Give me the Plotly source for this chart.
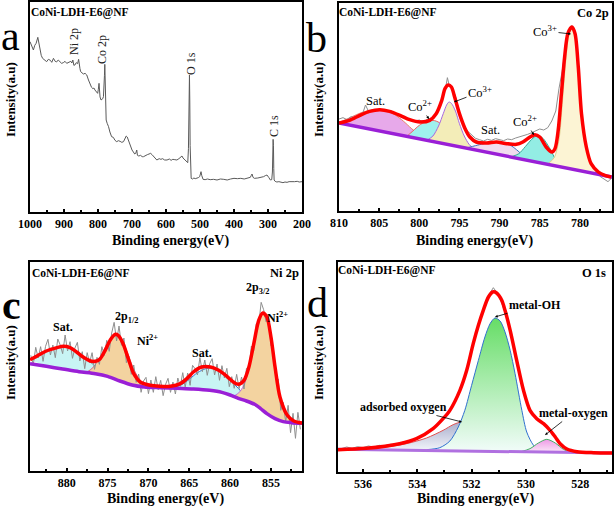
import plotly.graph_objects as go

W, H = 614, 511
SERIF = "Liberation Serif"

# ---------------- Panel a: survey spectrum ----------------
A_E = [1000, 995, 990, 986, 982, 977, 974, 971, 967, 963, 957, 951, 946, 940, 936, 931, 926, 922, 917, 912,
       907, 902, 897, 892, 886, 880, 877, 874, 871, 868, 864, 860, 857, 855, 853, 851, 847, 843, 838, 833,
       828, 823, 819, 815, 812, 809, 805, 801, 799, 797, 796, 794, 791, 788, 786, 784, 782, 781, 780, 779,
       778, 777, 776, 773, 769, 765, 760, 755, 750, 745, 740, 735, 730, 725, 721, 717, 714, 711, 707, 703,
       700, 696, 692, 689, 686, 684, 680, 675, 670, 666, 660, 655, 650, 645, 641, 636, 632, 627, 620, 615,
       610, 604, 597, 590, 585, 580, 574, 568, 562, 557, 553, 550, 546, 542, 539, 536, 534, 532, 531, 530,
       529, 527, 526, 522, 518, 514, 509, 505, 501, 499, 497, 495, 493, 491, 485, 478, 470, 460, 450, 440,
       430, 420, 410, 400, 390, 380, 370, 360, 352, 349, 347, 344, 340, 330, 320, 313, 308, 303, 298, 293,
       289, 287, 285, 284, 283, 282, 279, 274, 268, 262, 256, 250, 244, 238, 230, 222, 214, 208, 200]
A_I = [511, 495, 486, 500, 506, 524, 505, 496, 470, 461, 455, 451, 458, 455, 449, 461, 452, 450, 456, 451,
       446, 448, 452, 446, 449, 452, 447, 456, 440, 441, 448, 445, 458, 437, 430, 421, 418, 414, 416, 411,
       396, 381, 374, 370, 372, 366, 361, 356, 368, 386, 372, 345, 336, 338, 340, 346, 372, 410, 443, 400,
       330, 290, 276, 266, 256, 240, 226, 224, 215, 211, 214, 212, 209, 211, 218, 228, 225, 216, 206, 196,
       186, 180, 174, 176, 186, 170, 168, 170, 166, 166, 168, 172, 174, 176, 172, 166, 162, 156, 160, 158,
       160, 156, 156, 159, 155, 158, 157, 156, 160, 164, 168, 162, 158, 155, 150, 148, 190, 330, 411, 330,
       200, 120, 101, 99, 102, 100, 101, 103, 106, 112, 121, 110, 100, 98, 97, 99, 97, 98, 96, 99,
       98, 96, 99, 101, 100, 101, 99, 102, 104, 110, 114, 104, 101, 102, 104, 106, 109, 111, 104, 96,
       97, 120, 218, 200, 130, 96, 92, 90, 91, 89, 88, 90, 89, 91, 90, 91, 92, 90, 91]

# ---------------- Panel b: Co 2p ----------------
B_RAW_E = [810.0, 809.5, 809.0, 808.5, 808.0, 807.5, 807.0, 806.7, 806.3, 806.0, 805.5, 805.0, 804.5, 804.0,
           803.5, 803.0, 802.5, 802.0, 801.5, 801.0, 800.5, 800.0, 799.5, 799.0, 798.5, 798.0, 797.5, 797.0,
           796.7, 796.5, 796.3, 796.0, 795.5, 795.0, 794.5, 794.0, 793.5, 793.0, 792.5, 792.0, 791.5, 791.0,
           790.5, 790.0, 789.5, 789.0, 788.5, 788.0, 787.5, 787.0, 786.5, 786.0, 785.5, 785.0, 784.5, 784.0,
           783.5, 783.0, 782.6, 782.2, 781.8, 781.4, 781.0, 780.6, 780.2, 779.8, 779.4, 779.0, 778.5, 778.0,
           777.5, 777.0, 776.5, 776.0]
B_RAW_I = [276, 280, 274, 283, 279, 288, 296, 318, 298, 303, 300, 307, 302, 298,
           301, 292, 289, 283, 279, 274, 270, 273, 268, 275, 279, 290, 310, 350,
           372, 400, 380, 375, 345, 295, 262, 240, 228, 218, 214, 210, 215, 212,
           217, 214, 211, 216, 214, 219, 222, 226, 230, 235, 240, 246, 243, 250,
           270, 300, 368, 420, 490, 540, 556, 530, 440, 300, 215, 170, 140, 118,
           104, 96, 88, 100]
B_ENV_E = [810.0, 808.7, 807.4, 806.2, 804.9, 803.7, 802.4, 801.2, 799.9, 798.7, 797.9, 797.2, 796.8, 796.4,
           796.0, 795.6, 795.0, 794.3, 793.7, 792.9, 791.6, 790.4, 789.1, 787.9, 787.1, 786.2, 785.6, 785.0,
           784.2, 783.5, 783.1, 782.7, 782.3, 781.9, 781.5, 781.0, 780.6, 780.2, 779.8, 779.2, 778.6, 777.7,
           776.9, 776.1]
B_ENV_I = [264, 272, 287, 299, 304, 299, 287, 274, 267, 272, 292, 332, 367, 378,
           372, 342, 292, 247, 222, 207, 204, 207, 202, 200, 207, 222, 229, 222,
           192, 177, 187, 242, 352, 462, 532, 552, 532, 432, 292, 192, 142, 117,
           107, 102]
B_BG_E = [810, 776]
B_BG_I = [264, 102]
B_SAT1_E = [810, 809, 808, 807, 806, 805, 804, 803, 802, 801, 800, 799.5, 799]
B_SAT1_I = [266, 276, 287, 297, 302, 304, 300, 288, 270, 248, 228, 218, 212]
B_CO2A_E = [801.5, 800.8, 800, 799.2, 798.3, 797.5, 796.8, 796.2, 795.5]
B_CO2A_I = [225, 240, 257, 268, 272, 265, 245, 222, 200]
B_CO3A_E = [799, 798.3, 797.6, 797, 796.6, 796.3, 796, 795.5, 795, 794.4, 793.8, 793.2]
B_CO3A_I = [213, 225, 255, 293, 318, 327, 323, 300, 262, 225, 200, 187]
B_SAT2_E = [794, 793, 792, 791, 790.2, 789.3, 788.5, 787.7, 787, 786.3]
B_SAT2_I = [190, 196, 202, 206, 207, 204, 195, 180, 165, 153]
B_CO2B_E = [788.5, 787.6, 786.8, 786, 785.3, 784.6, 783.8, 783.1, 782.5, 782]
B_CO2B_I = [163, 172, 193, 215, 227, 218, 190, 158, 138, 131]
B_CO3B_E = [784, 783.2, 782.6, 782.2, 781.8, 781.4, 781, 780.6, 780.2, 779.8, 779.3, 778.7, 778, 777.2]
B_CO3B_I = [141, 160, 215, 320, 440, 525, 552, 528, 430, 295, 195, 143, 120, 108]

# ---------------- Panel c: Ni 2p ----------------
C_RAW_E = [884.4, 884.1, 883.8, 883.5, 883.2, 882.9, 882.6, 882.3, 882.0, 881.7, 881.4, 881.1, 880.8, 880.5,
           880.2, 879.9, 879.6, 879.3, 879.0, 878.7, 878.4, 878.1, 877.8, 877.5, 877.2, 876.9, 876.6, 876.3,
           876.0, 875.7, 875.4, 875.1, 874.8, 874.5, 874.2, 873.9, 873.6, 873.3, 873.0, 872.7, 872.4, 872.1,
           871.8, 871.5, 871.2, 870.9, 870.6, 870.3, 870.0, 869.7, 869.4, 869.1, 868.8, 868.5, 868.2, 867.9,
           867.6, 867.3, 867.0, 866.7, 866.4, 866.1, 865.8, 865.5, 865.2, 864.9, 864.6, 864.3, 864.0, 863.7,
           863.4, 863.1, 862.8, 862.5, 862.2, 861.9, 861.6, 861.3, 861.0, 860.7, 860.4, 860.1, 859.8, 859.5,
           859.2, 858.9, 858.6, 858.3, 858.0, 857.7, 857.4, 857.1, 856.8, 856.5, 856.2, 855.9, 855.6, 855.3,
           855.0, 854.7, 854.4, 854.1, 853.8, 853.5, 853.2, 852.9, 852.6, 852.3, 852.0, 851.7, 851.4]
C_RAW_I = [347, 319, 371, 339, 373, 329, 374, 395, 348, 378, 340, 396, 378, 352,
           408, 360, 388, 338, 369, 386, 330, 358, 307, 355, 325, 355, 305, 341,
           320, 373, 347, 392, 359, 414, 446, 390, 435, 377, 399, 325, 344, 290,
           318, 266, 291, 236, 270, 281, 232, 273, 236, 283, 244, 272, 226, 260,
           278, 236, 267, 231, 279, 254, 295, 251, 294, 257, 317, 307, 288, 340,
           298, 333, 287, 322, 337, 288, 321, 272, 316, 279, 308, 253, 283, 248,
           290, 247, 282, 246, 308, 304, 375, 362, 442, 440, 506, 484, 448, 462,
           376, 366, 276, 276, 182, 206, 147, 197, 115, 173, 98, 176, 125]
C_ENV_E = [884.5, 883.7, 882.5, 881.2, 880.4, 879.6, 878.8, 878.0, 877.1, 876.5, 875.9, 875.3, 874.7, 874.1,
           873.7, 873.1, 872.4, 871.8, 871.0, 869.8, 868.6, 867.3, 866.1, 865.3, 864.5, 863.5, 862.4, 861.4,
           860.4, 859.6, 859.0, 858.3, 857.7, 857.1, 856.5, 856.0, 855.5, 855.0, 854.5, 853.9, 853.0, 852.2,
           851.2]
C_ENV_I = [334, 344, 360, 370, 374, 370, 357, 342, 330, 329, 337, 362, 392, 410,
           407, 382, 332, 292, 267, 257, 254, 254, 262, 277, 297, 312, 312, 302,
           284, 267, 260, 272, 312, 382, 452, 474, 462, 402, 312, 222, 167, 150,
           144]
C_BG_E = [884.5, 882.5, 880.5, 878.5, 876.5, 875.0, 873.5, 872.0, 870.5, 868.5, 866.5, 864.5, 862.5, 861.0,
          860.0, 859.0, 858.0, 857.0, 856.3, 855.5, 854.5, 853.5, 852.5, 851.2]
C_BG_I = [322, 314, 306, 298, 292, 284, 270, 258, 252, 250, 248, 246, 242, 236,
          228, 218, 210, 200, 188, 172, 157, 148, 145, 143]
C_SAT1_E = [884.5, 883.5, 882.5, 881.5, 880.4, 879.4, 878.4, 877.4, 876.5, 875.5, 874.5]
C_SAT1_I = [334, 347, 360, 369, 372, 367, 352, 333, 314, 297, 282]
C_P12_E = [877.5, 876.8, 876.0, 875.3, 874.6, 873.9, 873.2, 872.5, 871.8, 871.0, 870.2]
C_P12_I = [297, 310, 338, 370, 396, 405, 390, 350, 305, 272, 255]
C_SAT2_E = [867, 866, 865, 864, 863, 862.2, 861.4, 860.6, 859.8, 859, 858.2, 857.5]
C_SAT2_I = [250, 258, 275, 295, 307, 310, 303, 288, 268, 248, 226, 210]
C_P32_E = [859.5, 858.8, 858.2, 857.6, 857.0, 856.5, 856.0, 855.5, 855.0, 854.5, 854.0, 853.4, 852.7, 851.8]
C_P32_I = [225, 238, 265, 315, 385, 445, 472, 460, 400, 315, 235, 180, 155, 146]

# ---------------- Panel d: O 1s ----------------
D_RAW_E = [537.0, 536.8, 536.6, 536.4, 536.2, 536.0, 535.8, 535.6, 535.4, 535.2, 535.0, 534.8, 534.6, 534.4,
           534.2, 534.0, 533.8, 533.6, 533.4, 533.2, 533.0, 532.8, 532.6, 532.4, 532.2, 532.0, 531.8, 531.6,
           531.4, 531.2, 531.0, 530.8, 530.6, 530.4, 530.2, 530.0, 529.8, 529.6, 529.4, 529.2, 529.0, 528.8,
           528.6, 528.4, 528.2, 528.0, 527.8, 527.6, 527.4, 527.2, 527.0, 526.8]
D_RAW_I = [72, 70, 75, 71, 76, 73, 78, 75, 80, 79, 83, 84, 88, 91,
           96, 102, 110, 120, 131, 146, 164, 186, 214, 251, 300, 366, 426, 480,
           526, 553, 530, 486, 430, 354, 286, 220, 181, 160, 148, 131, 113, 92,
           75, 66, 62, 61, 58, 59, 57, 58, 56, 57]
D_ENV_E = [536.92, 535.88, 534.65, 534.03, 533.42, 533.05, 532.80, 532.43, 532.18, 531.94, 531.75, 531.57,
           531.38, 531.22, 531.08, 530.89, 530.77, 530.58, 530.34, 530.09, 529.85, 529.60, 529.35, 529.11,
           528.92, 528.74, 528.49, 528.12, 527.51, 526.83]
D_ENV_I = [67, 71, 85, 100, 130, 160, 185, 245, 305, 385, 440, 485,
           525, 540, 537, 515, 485, 425, 335, 245, 185, 160, 145, 125,
           105, 85, 69, 61, 58, 57]
D_BG_E = [537.0, 526.8]
D_BG_I = [68, 57]
D_ADS_E = [536.49, 535.26, 534.40, 533.66, 533.05, 532.68, 532.37, 532.06, 531.82, 531.57, 531.26, 530.95]
D_ADS_I = [68, 74, 85, 102, 125, 142, 150, 142, 120, 90, 70, 62]
D_OH_E = [533.66, 533.17, 532.80, 532.49, 532.25, 532.00, 531.75, 531.51, 531.32, 531.14, 530.95, 530.77,
          530.58, 530.40, 530.15, 529.97, 529.72, 529.48, 529.11]
D_OH_I = [67, 73, 93, 135, 185, 260, 335, 405, 445, 462, 453, 420, 365, 295, 185, 120, 80, 65, 59]
D_MO_E = [530.22, 529.85, 529.54, 529.23, 528.92, 528.62, 528.31]
D_MO_I = [60, 70, 87, 98, 87, 68, 58]

# ---------------- figure ----------------
fig = go.Figure()


def band(ex, ey, bx, by):
    lo, hi = min(ex), max(ex)
    pts = sorted([(x, y) for x, y in zip(bx, by) if lo < x < hi])
    return list(ex) + [p[0] for p in pts], list(ey) + [p[1] for p in pts]


def comp(ax, ex, ey, bx, by, fill, line, grad=None):
    px, py = band(ex, ey, bx, by)
    kw = dict(x=px, y=py, xaxis="x" + ax, yaxis="y" + ax, mode="lines", fill="toself",
              line=dict(width=0, shape="spline", smoothing=0.8), hoverinfo="skip", showlegend=False)
    if grad:
        kw["fillgradient"] = dict(type="vertical", colorscale=grad)
    else:
        kw["fillcolor"] = fill
    fig.add_trace(go.Scatter(**kw))
    fig.add_trace(go.Scatter(x=ex, y=ey, xaxis="x" + ax, yaxis="y" + ax, mode="lines",
                             line=dict(color=line, width=1, shape="spline", smoothing=0.8),
                             hoverinfo="skip", showlegend=False))


def line(ax, x, y, color, width, shape="spline"):
    fig.add_trace(go.Scatter(x=x, y=y, xaxis="x" + ax, yaxis="y" + ax, mode="lines",
                             line=dict(color=color, width=width, shape=shape, smoothing=0.8),
                             hoverinfo="skip", showlegend=False))


RED = "#ff0000"
PURPLE = "#9a1fd6"
GRAY = "#8f8f8f"

# a
line("", A_E, A_I, "#5a5a5a", 1, "linear")

# b
comp("2", B_SAT1_E, B_SAT1_I, B_BG_E, B_BG_I, "#e7a9ea", "#e8806a")
comp("2", B_CO2A_E, B_CO2A_I, B_BG_E, B_BG_I, "#9ff1ee", "#f06060")
comp("2", B_CO3A_E, B_CO3A_I, B_BG_E, B_BG_I, "#f3edb8", "#a868e0")
comp("2", B_SAT2_E, B_SAT2_I, B_BG_E, B_BG_I, "#f1dcef", "#3a6fc0")
comp("2", B_CO2B_E, B_CO2B_I, B_BG_E, B_BG_I, "#93ede4", "#36a896")
comp("2", B_CO3B_E, B_CO3B_I, B_BG_E, B_BG_I, "#fcf4d4", "#e0d090")
line("2", B_RAW_E, B_RAW_I, GRAY, 1, "linear")
line("2", B_BG_E, B_BG_I, PURPLE, 3.5, "linear")
line("2", B_ENV_E, B_ENV_I, RED, 3.5)

# c
comp("3", C_SAT1_E, C_SAT1_I, C_BG_E, C_BG_I, "#c8f4f4", "#40b4b4")
comp("3", C_P12_E, C_P12_I, C_BG_E, C_BG_I, "#f3d3a0", "#e06080")
comp("3", C_SAT2_E, C_SAT2_I, C_BG_E, C_BG_I, "#c8f4f4", "#3070d0")
comp("3", C_P32_E, C_P32_I, C_BG_E, C_BG_I, "#f3d3a0", "#c070e0")
line("3", C_RAW_E, C_RAW_I, GRAY, 1, "linear")
line("3", C_BG_E, C_BG_I, PURPLE, 3.5)
line("3", C_ENV_E, C_ENV_I, RED, 3.5)

# d
comp("4", D_ADS_E, D_ADS_I, D_BG_E, D_BG_I, None, "#e05050", [[0, "#f4f6fc"], [1, "#a9aecb"]])
comp("4", D_OH_E, D_OH_I, D_BG_E, D_BG_I, None, "#3070d0", [[0, "#f2fcfa"], [1, "#66dd66"]])
comp("4", D_MO_E, D_MO_I, D_BG_E, D_BG_I, None, "#40b060", [[0, "#fbeaf8"], [1, "#ee99e6"]])
line("4", D_RAW_E, D_RAW_I, GRAY, 1, "linear")
line("4", D_BG_E, D_BG_I, "#b070e0", 3, "linear")
line("4", D_ENV_E, D_ENV_I, RED, 3.5)


def dom_x(l, r):
    return [l / W, r / W]


def dom_y(t, b):
    return [1 - b / H, 1 - t / H]


tickfont = dict(family=SERIF, size=12, color="black", weight="bold")
xcommon = dict(showline=True, mirror=True, linecolor="black", linewidth=2, ticks="inside", ticklen=3,
               tickwidth=1.5, tickcolor="black", tickfont=tickfont, showgrid=False, zeroline=False,
               automargin=False,
               minor=dict(ticks="inside", ticklen=2, tickwidth=1.5, tickcolor="black", showgrid=False))
ycommon = dict(showline=True, mirror=True, linecolor="black", linewidth=2, ticks="", showticklabels=False,
               showgrid=False, zeroline=False, automargin=False)

fig.update_layout(
    template="none",
    width=W, height=H, margin=dict(l=0, r=0, t=0, b=0, pad=0, autoexpand=False),
    paper_bgcolor="white", plot_bgcolor="white",
    showlegend=False,
    xaxis=dict(xcommon, domain=dom_x(30, 302), range=[1000, 200], dtick=100, tick0=200,
               minor=dict(xcommon["minor"], dtick=50), anchor="y"),
    yaxis=dict(ycommon, domain=dom_y(2, 212), range=[0, 630], anchor="x"),
    xaxis2=dict(xcommon, domain=dom_x(339, 612), range=[810, 776], dtick=5, tick0=780,
                minor=dict(xcommon["minor"], dtick=2.5), anchor="y2"),
    yaxis2=dict(ycommon, domain=dom_y(3, 211), range=[0, 624], anchor="x2"),
    xaxis3=dict(xcommon, domain=dom_x(30, 302), range=[884.5, 851.2], dtick=5, tick0=855,
                minor=dict(xcommon["minor"], dtick=2.5), anchor="y3"),
    yaxis3=dict(ycommon, domain=dom_y(262, 471), range=[0, 627], anchor="x3"),
    xaxis4=dict(xcommon, domain=dom_x(338, 612), range=[536.92, 526.83], dtick=2, tick0=528,
                minor=dict(xcommon["minor"], dtick=1), anchor="y4"),
    yaxis4=dict(ycommon, domain=dom_y(262, 472), range=[0, 630], anchor="x4"),
)

ann = []


def txt(px, py, s, size=12, bold=False, angle=0, color="black"):
    t = "<b>%s</b>" % s if bold else s
    ann.append(dict(x=px / W, y=1 - py / H, xref="paper", yref="paper", text=t, showarrow=False,
                    textangle=angle, font=dict(family=SERIF, size=size, color=color),
                    xanchor="center", yanchor="middle"))


def arr(hx, hy, tx, ty, s, size=12, bold=False):
    t = "<b>%s</b>" % s if bold else s
    ann.append(dict(x=hx / W, y=1 - hy / H, xref="paper", yref="paper", text=t, showarrow=True,
                    ax=tx - hx, ay=ty - hy, arrowhead=2, arrowsize=0.7, arrowwidth=0.8, arrowcolor="black",
                    standoff=0, font=dict(family=SERIF, size=size, color="black")))


# panel letters
txt(10, 36, "a", 42)
txt(316, 38, "b", 42)
txt(11, 305, "<b>c</b>", 42)
txt(317, 303, "d", 42)

# sample labels
for (px, py) in [(80, 12), (388, 13), (81, 273), (387, 270)]:
    txt(px, py, "CoNi-LDH-E6@NF", 11.5, True)

# axis titles
for px, py in [(10, 100), (318, 100), (10, 363), (318, 363)]:
    txt(px, py, "Intensity(a.u)", 13, True, -90)
for px, py in [(170, 241), (474, 241), (165, 499), (475, 499)]:
    txt(px, py, "Binding energy(eV)", 14, True)

# a labels
txt(74, 42, "Ni 2p", 12, False, -90, "#222222")
txt(102, 50, "Co 2p", 12, False, -90, "#222222")
txt(191, 64, "O 1s", 12, False, -90, "#222222")
txt(274, 126, "C 1s", 12, False, -90, "#222222")

# b labels
txt(593, 13, "Co 2p", 12.5, True)
txt(375, 101, "Sat.", 12.5)
txt(490, 130, "Sat.", 12.5)
arr(429, 119, 420, 106, "Co<sup>2+</sup>", 12.5)
arr(454, 102, 480, 92, "Co<sup>3+</sup>", 12.5)
arr(534, 135, 525, 121, "Co<sup>2+</sup>", 12.5)
arr(571, 34, 545, 31, "Co<sup>3+</sup>", 12.5)

# c labels
txt(284, 273, "Ni 2p", 12.5, True)
txt(63, 327, "Sat.", 12, True)
txt(126, 317, "2p<sub>1/2</sub>", 12, True)
txt(147, 340, "Ni<sup>2+</sup>", 12, True)
txt(202, 353, "Sat.", 12, True)
txt(257, 288, "2p<sub>3/2</sub>", 12, True)
txt(277, 317, "Ni<sup>2+</sup>", 12, True)

# d labels
txt(594, 273, "O 1s", 12.5, True)
arr(495, 317, 535, 305, "metal-OH", 12, True)
arr(462, 422, 403, 407, "adsorbed oxygen", 12, True)
arr(545, 435, 573, 413, "metal-oxygen", 12, True)

fig.update_layout(annotations=ann)
fig.write_html(
    "out.html",
    config={"displayModeBar": False},
    post_script="document.body.style.margin='0';document.body.style.padding='0';"
                "document.body.style.overflow='hidden';",
)
